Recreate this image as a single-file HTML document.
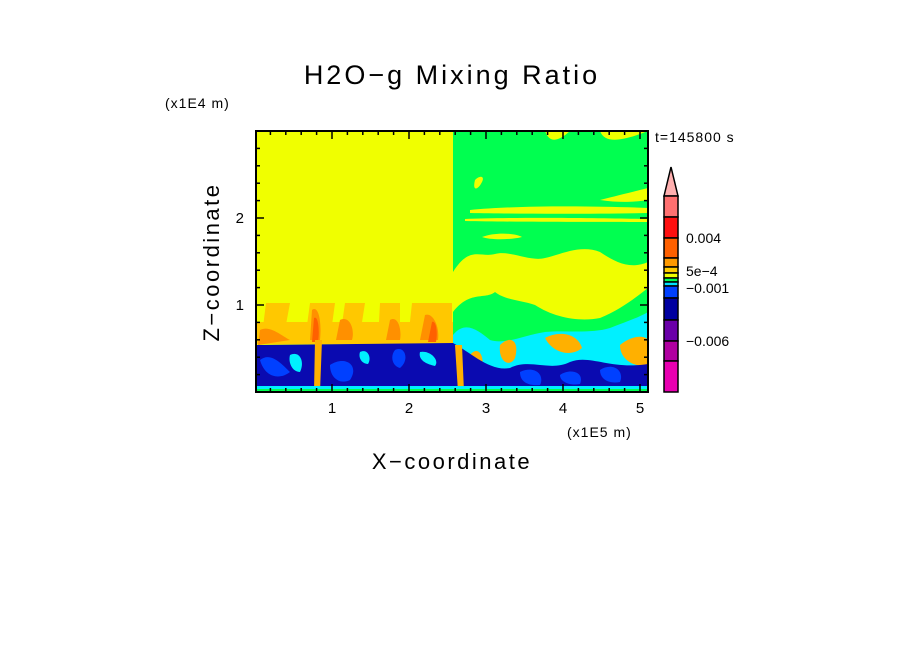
<!DOCTYPE html>
<html><head><meta charset="utf-8"><style>
html,body{margin:0;padding:0;background:#fff;}
svg{display:block;font-family:"Liberation Sans","DejaVu Sans",sans-serif;}
</style></head><body>
<svg width="904" height="654" viewBox="0 0 904 654">
<text x="452" y="84" font-size="27" letter-spacing="3" text-anchor="middle">H2O−g Mixing Ratio</text>
<text x="165" y="108" font-size="14" letter-spacing="1">(x1E4 m)</text>
<text x="655" y="142" font-size="14" letter-spacing="1">t=145800 s</text>
<g>
<clipPath id="pc"><rect x="256" y="131" width="392" height="261"/></clipPath>
<g clip-path="url(#pc)">
<rect x="256" y="131" width="392" height="261" fill="#f0ff00"/>
<path d="M453 131 L648 131 L648 262 C630 270 615 262 600 252 C580 244 560 255 545 258 C530 262 510 250 495 254 C480 258 470 245 453 272 Z" fill="#00ff50"/>
<path d="M545 131 C550 145 560 140 570 131 Z M600 131 C605 145 625 140 648 131 Z" fill="#f0ff00"/>
<path d="M470 210 C520 205 600 206 648 208 L648 213 C600 214 520 214 470 213 Z" fill="#f0ff00"/>
<path d="M465 219 C520 217 600 218 648 219 L648 222 C600 222 520 222 465 221 Z" fill="#f0ff00"/>
<path d="M482 237 C495 232 515 233 522 237 C510 240 490 240 482 237 Z" fill="#f0ff00"/>
<path d="M600 200 C620 195 640 190 648 188 L648 200 C635 202 620 203 600 200 Z" fill="#f0ff00"/>
<path d="M475 180 C480 175 485 176 482 182 C478 190 472 192 475 180 Z" fill="#f0ff00"/>
<!-- green band lower right -->
<path d="M453 312 C470 290 485 300 495 292 C505 300 520 300 535 305 C555 318 580 322 600 318 C620 310 635 298 648 288 L648 392 L453 392 Z" fill="#00ff50"/>
<!-- left orange zone -->
<rect x="256" y="322" width="197" height="22" fill="#ffc800"/>
<path d="M266 303 L290 303 L285 330 L262 335 Z M310 303 L335 303 L330 340 L305 340 Z M345 303 L365 303 L360 335 L340 338 Z M380 303 L400 303 L400 340 L378 340 Z M412 303 L452 303 L452 340 L408 340 Z" fill="#ffc800"/>
<path d="M260 330 C270 325 280 335 290 340 L258 345 Z M312 310 C318 305 322 320 320 340 L310 340 Z M340 320 C350 315 355 330 352 340 L336 340 Z M390 320 C398 315 402 330 400 340 L386 340 Z M425 315 C432 312 440 325 438 340 L420 340 Z" fill="#ff9000"/>
<path d="M314 318 C318 315 320 330 318 342 L312 342 Z M432 322 C436 320 438 332 436 342 L428 342 Z" fill="#ff6000"/>
<!-- right cyan -->
<path d="M453 335 C465 320 478 330 490 340 C505 345 525 335 545 332 C565 330 590 334 610 328 C625 322 638 318 648 312 L648 392 L453 392 Z" fill="#00f0ff"/>
<path d="M500 345 C510 335 520 340 515 358 C510 368 498 362 500 345 Z M545 338 C560 330 578 334 582 348 C570 358 552 352 545 338 Z M620 345 C632 335 645 335 648 340 L648 365 C635 368 620 360 620 345 Z M470 355 C478 345 485 355 482 370 L470 372 Z" fill="#ffb000"/>
<!-- bottom blue/navy -->
<path d="M256 345 L453 343 C470 352 490 372 510 368 C530 358 550 372 570 362 C590 354 610 370 648 364 L648 392 L256 392 Z" fill="#0a0ab0"/>
<path d="M260 360 C270 352 280 362 290 372 C280 380 265 378 260 360 Z M330 365 C345 355 360 365 350 380 C340 385 330 378 330 365 Z M395 350 C405 345 410 360 400 368 C392 366 390 356 395 350 Z M520 372 C535 365 545 375 540 385 C528 386 520 382 520 372 Z M600 370 C612 362 625 370 620 382 C610 384 600 380 600 370 Z M560 375 C570 368 585 372 580 384 C570 386 560 382 560 375 Z" fill="#0040ff"/>
<path d="M290 355 C300 350 305 362 300 372 C292 372 288 362 290 355 Z M360 352 C368 348 372 358 368 364 C362 364 358 358 360 352 Z M420 352 C430 350 440 360 435 366 C426 364 418 360 420 352 Z" fill="#00f0ff"/>
<path d="M315 340 L322 340 L320 392 L314 392 Z M455 345 L462 345 L464 392 L458 392 Z" fill="#ffb000"/>
<rect x="256" y="386" width="392" height="6" fill="#00f0ff"/>
<rect x="256" y="389" width="392" height="3" fill="#00ff50"/>
</g>
</g>
<g fill="none" stroke="#000">
<rect x="256" y="131" width="392" height="261" stroke-width="2"/>
<g stroke-width="1.5" id="ticks"></g>
</g>
<g font-size="15" text-anchor="middle">
<text x="332" y="413">1</text><text x="409" y="413">2</text><text x="486" y="413">3</text><text x="563" y="413">4</text><text x="640" y="413">5</text>
</g>
<g font-size="15" text-anchor="end">
<text x="244" y="310">1</text><text x="244" y="223">2</text>
</g>
<text x="567" y="437" font-size="14" letter-spacing="1">(x1E5 m)</text>
<text x="452" y="469" font-size="22" letter-spacing="2.5" text-anchor="middle">X−coordinate</text>
<text x="0" y="0" font-size="22" letter-spacing="2.5" text-anchor="middle" transform="translate(219,262) rotate(-90)">Z−coordinate</text>
<g stroke="#000" stroke-width="1.5">
<path d="M664 196 L671 167 L678 196 Z" fill="#ffb0b0"/>
<rect x="664" y="196" width="14" height="21" fill="#ff7070"/>
<rect x="664" y="217" width="14" height="21" fill="#ff1010"/>
<rect x="664" y="238" width="14" height="20" fill="#ff6000"/>
<rect x="664" y="258" width="14" height="9" fill="#ff9900"/>
<rect x="664" y="267" width="14" height="6" fill="#ffcc00"/>
<rect x="664" y="273" width="14" height="5" fill="#f0ff00"/>
<rect x="664" y="278" width="14" height="4" fill="#00ff50"/>
<rect x="664" y="282" width="14" height="4" fill="#00e0ff"/>
<rect x="664" y="286" width="14" height="12" fill="#0040ff"/>
<rect x="664" y="298" width="14" height="22" fill="#0000a0"/>
<rect x="664" y="320" width="14" height="21" fill="#6a00a8"/>
<rect x="664" y="341" width="14" height="20" fill="#b000a0"/>
<rect x="664" y="361" width="14" height="31" fill="#e800b0"/>
</g>
<g font-size="14">
<text x="686" y="243">0.004</text><text x="686" y="276">5e−4</text><text x="686" y="293">−0.001</text><text x="686" y="346">−0.006</text>
</g>
</svg>
<script>
const g=document.getElementById('ticks');
function ln(x1,y1,x2,y2){const l=document.createElementNS('http://www.w3.org/2000/svg','line');l.setAttribute('x1',x1);l.setAttribute('y1',y1);l.setAttribute('x2',x2);l.setAttribute('y2',y2);g.appendChild(l);}
for(let i=1;i<=25;i++){const x=255+i*15.4;const L=i%5==0?8:4;ln(x,392,x,392-L);ln(x,131,x,131+L);}
for(let i=1;i<=14;i++){const y=392-i*17.4;const L=i%5==0?8:4;ln(256,y,256+L,y);ln(648,y,648-L,y);}
</script>
</body></html>
